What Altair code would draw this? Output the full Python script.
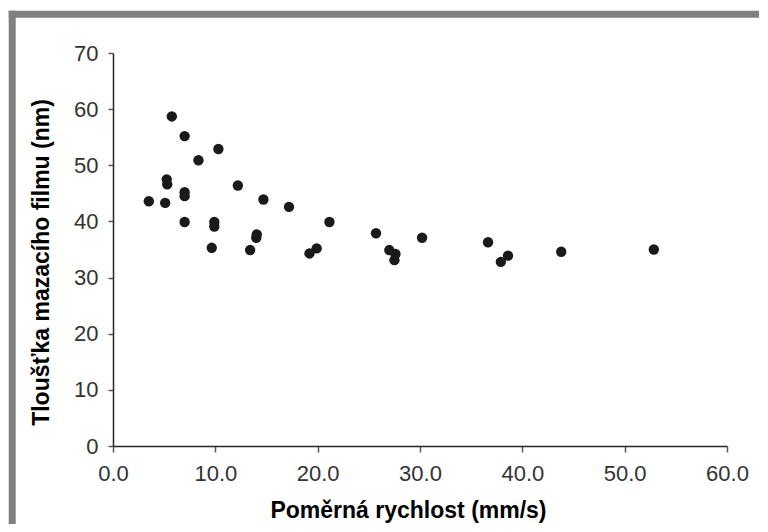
import altair as alt
import pandas as pd

# Data
rychlost = [3.5, 5.1, 5.25, 5.3, 5.75, 7.0, 7.0, 7.0, 7.0, 8.35, 9.65, 9.9, 9.9,
            10.3, 12.2, 13.4, 14.0, 14.05, 14.7, 17.2, 19.2, 19.9, 21.15, 25.7,
            27.0, 27.6, 27.5, 30.2, 36.65, 37.9, 38.6, 43.8, 52.85]
tloustka = [43.6, 43.3, 47.5, 46.6, 58.7, 55.2, 45.2, 44.5, 39.9, 50.9, 35.3, 39.9, 39.1,
            52.9, 46.4, 34.9, 37.1, 37.7, 43.9, 42.6, 34.3, 35.2, 39.9, 37.9,
            34.9, 34.2, 33.1, 37.1, 36.3, 32.8, 33.9, 34.6, 35.0]
x_ticks = [0, 10, 20, 30, 40, 50, 60]
y_ticks = [0, 10, 20, 30, 40, 50, 60, 70]

df = pd.DataFrame({"x": rychlost, "y": tloustka})

W, H = 614, 393
FONT = "Liberation Sans"

points = alt.Chart(df).mark_circle(size=108, opacity=1, color="#1a1a1a").encode(
    x=alt.X("x:Q",
            scale=alt.Scale(domain=[0, 60], nice=False, zero=False),
            axis=alt.Axis(values=x_ticks, format=".1f", grid=False,
                          title="Poměrná rychlost (mm/s)",
                          titleX=295, titleY=71, titleAlign="center",
                          titleBaseline="alphabetic",
                          titleFont=FONT, titleFontSize=23, titleFontWeight="bold",
                          titleColor="#000000",
                          labelFont=FONT, labelFontSize=22, labelColor="#333333",
                          labelPadding=11, tickSize=6, tickColor="#595959",
                          domainColor="#262626", domainWidth=1.5, tickWidth=1.5,
                          labelFlush=False)),
    y=alt.Y("y:Q",
            scale=alt.Scale(domain=[0, 70], nice=False, zero=False),
            axis=alt.Axis(values=y_ticks, grid=False,
                          title="Tloušťka mazacího filmu (nm)",
                          titleX=-65, titleY=209, titleAngle=270,
                          titleAlign="center", titleBaseline="alphabetic",
                          titleFont=FONT, titleFontSize=23, titleFontWeight="bold",
                          titleColor="#000000",
                          labelFont=FONT, labelFontSize=22, labelColor="#333333",
                          labelPadding=10, tickSize=5, tickColor="#595959",
                          domainColor="#262626", domainWidth=1.5, tickWidth=1.5,
                          labelFlush=False)),
)

frame_df = pd.DataFrame({"k": [0]})
left_band = alt.Chart(frame_df).mark_rule(color="#808080", strokeWidth=7).encode(
    x=alt.value(-100.8), y=alt.value(-42.3), y2=alt.value(540)
)
top_band = alt.Chart(frame_df).mark_rule(color="#808080", strokeWidth=7).encode(
    x=alt.value(-104.3), x2=alt.value(700), y=alt.value(-38.8)
)

chart = alt.layer(left_band, top_band, points).properties(
    width=W, height=H,
    autosize=alt.AutoSizeParams(type="none"),
    padding={"left": 105, "top": 45, "right": 32, "bottom": 78},
    background="#ffffff",
).configure_view(stroke=None)

chart.save("out.html", embed_options={"renderer": "svg", "actions": False})
